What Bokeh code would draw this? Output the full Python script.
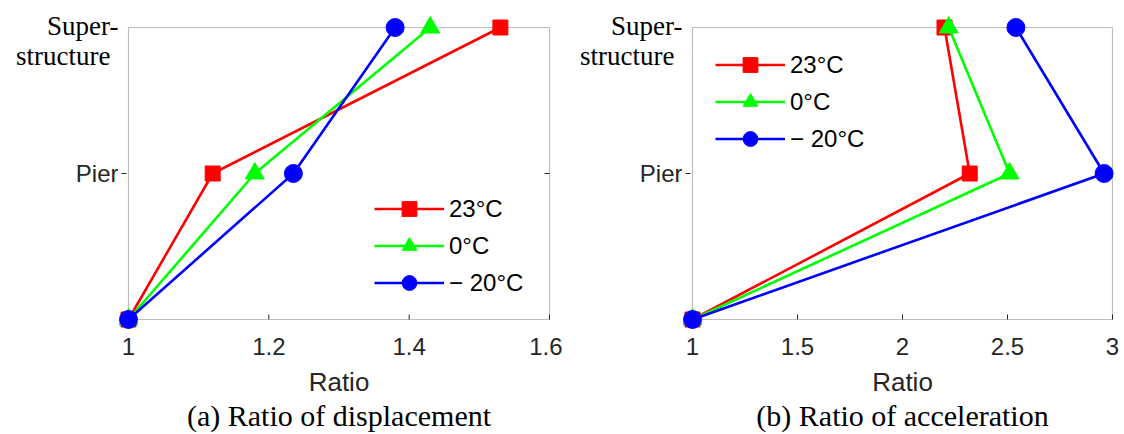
from bokeh.plotting import figure
from bokeh.layouts import row
from bokeh.models import (FixedTicker, Legend, LegendItem, Range1d, BoxAnnotation, Title)
from bokeh.core.properties import value
from bokeh.embed import file_html
from bokeh.resources import INLINE

# ---- data ----
levels = [0, 1, 2]                       # ground, Pier, Superstructure
pier_label = "Pier"
super_label_lines = ["Super-", "structure"]
series_names = ["23°C", "0°C", "\u2212 20°C"]

disp_23 = [1.0, 1.12, 1.53]
disp_0 = [1.0, 1.18, 1.43]
disp_m20 = [1.0, 1.235, 1.38]

acc_23 = [1.0, 2.32, 2.20]
acc_0 = [1.0, 2.51, 2.22]
acc_m20 = [1.0, 2.96, 2.54]

disp_ticks = [1, 1.2, 1.4, 1.6]
disp_tick_labels = ["1", "1.2", "1.4", "1.6"]
acc_ticks = [1, 1.5, 2, 2.5, 3]
acc_tick_labels = ["1", "1.5", "2", "2.5", "3"]

colors = ["#ff0000", "#00ff00", "#0000ff"]
markers = ["square", "triangle", "circle"]
marker_sizes = [15, 19, 18]

AX = "#262626"
SANS = "Liberation Sans"
SERIF = "Liberation Serif"

# layout (pixels)
FIG_W, FIG_H = 562, 434
BOX_TOP, BOX_BOTTOM = 27, 319
PAD, PAD_T = 10, 20
TICK = 5


def bare(fig):
    fig.xgrid.visible = False
    fig.ygrid.visible = False
    fig.outline_line_color = None
    fig.background_fill_color = "white"
    return fig


def make_panel(series, xr, ticks, tick_labels, caption, box_left, box_right, legend_loc):
    box_w = box_right - box_left
    box_h = BOX_BOTTOM - BOX_TOP
    sx = (xr[1] - xr[0]) / box_w
    sy = (levels[-1] - levels[0]) / box_h
    side_w = box_left - PAD
    y_lo = levels[0] - PAD * sy
    y_hi = levels[-1] + PAD_T * sy
    top_b = BOX_TOP - PAD_T
    bot_b = FIG_H - BOX_BOTTOM - PAD

    # ---- side strip holding the level labels (frame aligned with the plot) ----
    s = bare(figure(width=side_w, height=FIG_H, output_backend="svg", title=None,
                    toolbar_location=None, x_axis_location=None, y_axis_location=None,
                    x_range=Range1d(xr[0] - box_left * sx, xr[0] - PAD * sx),
                    y_range=Range1d(y_lo, y_hi),
                    min_border_left=0, min_border_right=0,
                    min_border_top=top_b, min_border_bottom=bot_b))
    s.text(x=[xr[0]], y=[levels[1]], text=[pier_label], x_offset=-10,
           text_align="right", text_baseline="middle", text_font=value(SANS),
           text_font_size="24px", text_color=AX)
    s.text(x=[xr[0]], y=[levels[2]], text=[super_label_lines[0]], x_offset=-10,
           y_offset=-2, text_align="right", text_baseline="middle",
           text_font=value(SERIF), text_font_size="27px", text_color="black")
    s.text(x=[xr[0]], y=[levels[2]], text=[super_label_lines[1]], x_offset=-18,
           y_offset=28, text_align="right", text_baseline="middle",
           text_font=value(SERIF), text_font_size="27px", text_color="black")

    # ---- main plot ----
    p = bare(figure(width=FIG_W - side_w, height=FIG_H, output_backend="svg", title=None,
                    toolbar_location=None,
                    x_range=Range1d(xr[0] - PAD * sx, xr[1] + PAD * sx),
                    y_range=Range1d(y_lo, y_hi),
                    y_axis_location=None,
                    min_border_left=0,
                    min_border_right=FIG_W - box_right - PAD,
                    min_border_top=top_b,
                    min_border_bottom=bot_b))

    p.add_layout(BoxAnnotation(left=xr[0], right=xr[1], bottom=levels[0], top=levels[-1],
                               fill_alpha=0, line_color=AX, line_width=1.2,
                               level="underlay"))
    # tick marks: Pier (outside left, inside right), x ticks inside bottom
    p.segment(x0=[xr[0] - 7 * sx, xr[1] - TICK * sx], x1=[xr[0] - 2 * sx, xr[1]],
              y0=[levels[1], levels[1]], y1=[levels[1], levels[1]],
              line_color=AX, line_width=1, level="underlay")
    p.segment(x0=ticks, x1=ticks, y0=[levels[0]] * len(ticks),
              y1=[levels[0] + TICK * sy] * len(ticks),
              line_color=AX, line_width=1, level="underlay")

    items = []
    for vals, name, c, m, sz in zip(series, series_names, colors, markers, marker_sizes):
        lr = p.line(vals, levels, line_color=c, line_width=2.6)
        sr = p.scatter(vals, levels, marker=m, size=sz, fill_color=c, line_color=c)
        items.append(LegendItem(label=name, renderers=[lr, sr]))

    xa = p.xaxis[0]
    xa.ticker = FixedTicker(ticks=ticks)
    xa.major_label_overrides = {t: l for t, l in zip(ticks, tick_labels)}
    xa.major_label_text_font = SANS
    xa.major_label_text_font_size = "24px"
    xa.major_label_text_color = AX
    xa.major_label_standoff = 8
    xa.major_tick_in = 0
    xa.major_tick_out = 0
    xa.major_tick_line_color = None
    xa.minor_tick_line_color = None
    xa.axis_line_color = None
    xa.axis_label = "Ratio"
    xa.axis_label_text_font = SANS
    xa.axis_label_text_font_size = "26px"
    xa.axis_label_text_font_style = "normal"
    xa.axis_label_text_color = AX
    xa.axis_label_standoff = 9

    p.add_layout(Title(text=caption, align="center", text_font=SERIF,
                       text_font_size="30px", text_font_style="normal",
                       text_color="black", standoff=-6), "below")

    leg = Legend(items=items, location=legend_loc, border_line_color=None,
                 background_fill_alpha=0, padding=0, margin=0, spacing=0,
                 glyph_width=70, glyph_height=37, label_height=37,
                 label_standoff=5, label_text_font=SANS,
                 label_text_font_size="24px", label_text_color="black")
    p.add_layout(leg)
    return s, p


s1, pa = make_panel([disp_23, disp_0, disp_m20], (1, 1.6), disp_ticks, disp_tick_labels,
                    "(a) Ratio of displacement", 128, 549, (256, 28))
s2, pb = make_panel([acc_23, acc_0, acc_m20], (1, 3), acc_ticks, acc_tick_labels,
                    "(b) Ratio of acceleration", 130, 550, (33, 172))

layout = row(s1, pa, s2, pb, spacing=0)
open("out.html", "w").write(file_html(layout, INLINE))
